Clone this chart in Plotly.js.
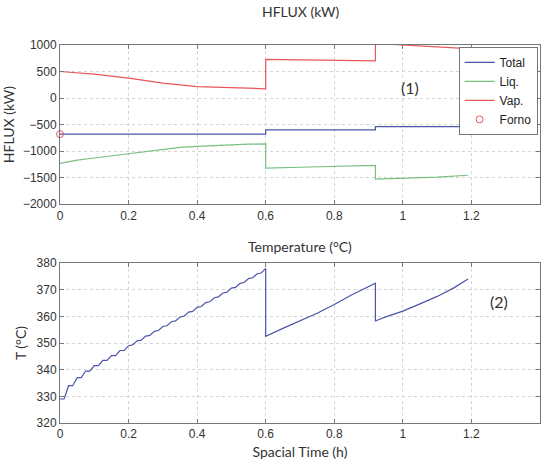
<!DOCTYPE html>
<html><head><meta charset="utf-8">
<script src="https://cdn.plot.ly/plotly-3.0.1.min.js"></script>
<style>html,body{margin:0;padding:0;background:#fff}#c{width:548px;height:464px}</style>
</head><body><div id="c"></div>
<script>
// HFLUX panel
const totalX = [0, 0.6, 0.6, 0.92, 0.92, 1.19];
const totalY = [-680, -680, -600, -600, -540, -540];
const liqX = [0, 0.05, 0.1, 0.15, 0.2, 0.25, 0.3, 0.35, 0.4, 0.45, 0.5, 0.55, 0.6, 0.6, 0.7, 0.8, 0.92, 0.92, 1.0, 1.1, 1.19];
const liqY = [-1230, -1170, -1130, -1090, -1050, -1000, -960, -930, -910, -895, -880, -870, -865, -1320, -1305, -1290, -1270, -1530, -1515, -1490, -1455];
const vapX = [0, 0.1, 0.2, 0.3, 0.4, 0.5, 0.6, 0.6, 0.8, 0.92, 0.92, 1.05, 1.19];
const vapY = [500, 450, 375, 280, 215, 190, 175, 730, 715, 700, 1030, 980, 930];
const fornoX = [0];
const fornoY = [-680];
// Temperature panel
const tempX = [0, 0.012, 0.025, 0.037, 0.05, 0.062, 0.075, 0.087, 0.1, 0.112, 0.125, 0.137, 0.15, 0.162, 0.175, 0.187, 0.2,
  0.212, 0.225, 0.237, 0.25, 0.262, 0.275, 0.287, 0.3, 0.312, 0.325, 0.337, 0.35, 0.362, 0.375, 0.387, 0.4,
  0.412, 0.425, 0.437, 0.45, 0.462, 0.475, 0.487, 0.5, 0.512, 0.525, 0.537, 0.55, 0.562, 0.575, 0.587, 0.6,
  0.6, 0.65, 0.7, 0.75, 0.8, 0.85, 0.92, 0.92, 0.95, 1.0, 1.05, 1.1, 1.15, 1.19];
const tempY = [329, 329, 334, 334, 337, 337, 339.5, 339.5, 341.5, 341.5, 343.5, 343.5, 345.3, 345.3, 347.2, 347.2, 349,
  349.3, 350.8, 351.1, 352.6, 352.9, 354.4, 354.7, 356.2, 356.5, 358, 358.3, 359.8, 360.1, 361.6, 361.9, 363.4,
  363.7, 365.2, 365.5, 367, 367.3, 368.8, 369.1, 370.6, 370.9, 372.4, 372.7, 374.2, 374.5, 376, 376.3, 378,
  352.5, 355.5, 358.3, 361.2, 364.5, 368, 372.5, 358.3, 359.8, 362, 364.7, 367.5, 370.8, 374];
const xTicks = [0, 0.2, 0.4, 0.6, 0.8, 1, 1.2, 1.4];
const xTickText = ['0', '0.2', '0.4', '0.6', '0.8', '1', '1.2', '1.4'];
const hfluxTicks = [1000, 500, 0, -500, -1000, -1500, -2000];
const tempTicks = [380, 370, 360, 350, 340, 330, 320];

const cBlue = '#4a55a8', cGreen = '#78c080', cRed = '#e8585a';
const traces = [
  {x: totalX, y: totalY, type: 'scatter', mode: 'lines', name: 'Total', line: {color: cBlue, width: 1.2}, xaxis: 'x', yaxis: 'y'},
  {x: liqX, y: liqY, type: 'scatter', mode: 'lines', name: 'Liq.', line: {color: cGreen, width: 1.2}, xaxis: 'x', yaxis: 'y'},
  {x: vapX, y: vapY, type: 'scatter', mode: 'lines', name: 'Vap.', line: {color: cRed, width: 1.2}, xaxis: 'x', yaxis: 'y'},
  {x: fornoX, y: fornoY, type: 'scatter', mode: 'markers', name: 'Forno', cliponaxis: false,
   marker: {symbol: 'circle-open', color: cRed, size: 7, line: {width: 1}}, xaxis: 'x', yaxis: 'y'},
  {x: tempX, y: tempY, type: 'scatter', mode: 'lines', showlegend: false, line: {color: cBlue, width: 1.2}, xaxis: 'x2', yaxis: 'y2'}
];
const axBase = {
  showline: true, mirror: 'ticks', linecolor: '#777', linewidth: 1,
  ticks: 'inside', ticklen: 4, tickcolor: '#777',
  showgrid: true, gridcolor: '#d4d4d4', griddash: 'dot', gridwidth: 1,
  zeroline: false, tickfont: {family: 'Liberation Sans, Arial, sans-serif', size: 12, color: '#333'}
};
const titleFont = {family: 'Lato, Noto Sans, sans-serif', size: 14, color: '#333'};
const layout = {
  width: 548, height: 464, paper_bgcolor: '#fff', plot_bgcolor: '#fff',
  margin: {l: 60, r: 8, t: 45, b: 41},
  showlegend: true,
  legend: {x: 0.995, xanchor: 'right', y: 0.995, yanchor: 'top', bgcolor: '#fff', bordercolor: '#777', borderwidth: 1,
    font: {family: 'Liberation Sans, Arial, sans-serif', size: 12, color: '#222'}, tracegroupgap: 0, itemwidth: 30},
  xaxis: Object.assign({}, axBase, {domain: [0, 1], range: [0, 1.4], tickvals: xTicks, ticktext: xTickText, anchor: 'y'}),
  yaxis: Object.assign({}, axBase, {domain: [0.579, 1], range: [-2000, 1000], tickvals: hfluxTicks, anchor: 'x',
    title: {text: 'HFLUX (kW)', font: titleFont, standoff: 4}}),
  xaxis2: Object.assign({}, axBase, {domain: [0, 1], range: [0, 1.4], tickvals: xTicks, ticktext: xTickText, anchor: 'y2',
    title: {text: 'Spacial Time (h)', font: titleFont, standoff: 6}}),
  yaxis2: Object.assign({}, axBase, {domain: [0, 0.423], range: [320, 380], tickvals: tempTicks, anchor: 'x2',
    title: {text: 'T (°C)', font: titleFont, standoff: 6}}),
  annotations: [
    {text: 'HFLUX (kW)', xref: 'paper', yref: 'paper', x: 0.5, y: 1.06, yanchor: 'bottom', showarrow: false, font: titleFont},
    {text: 'Temperature (°C)', xref: 'paper', yref: 'paper', x: 0.5, y: 0.44, yanchor: 'bottom', showarrow: false, font: titleFont},
    {text: '(1)', xref: 'x', yref: 'y', x: 1.02, y: 190, showarrow: false, font: {family: 'Lato, sans-serif', size: 16, color: '#333'}},
    {text: '(2)', xref: 'x2', yref: 'y2', x: 1.28, y: 365.5, showarrow: false, font: {family: 'Lato, sans-serif', size: 16, color: '#333'}}
  ]
};
Plotly.newPlot('c', traces, layout, {displayModeBar: false, staticPlot: true});
</script></body></html>
